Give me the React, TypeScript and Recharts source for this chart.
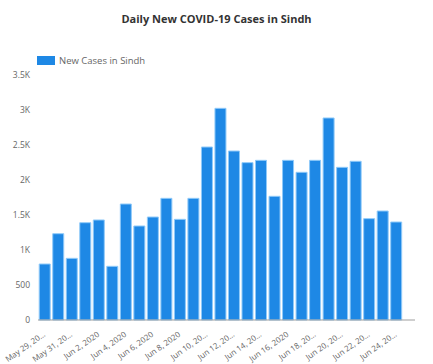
import { Bar, BarChart, XAxis, YAxis } from "recharts";

const days = [
  "May 29", "May 30", "May 31", "Jun 1", "Jun 2", "Jun 3", "Jun 4", "Jun 5", "Jun 6",
  "Jun 7", "Jun 8", "Jun 9", "Jun 10", "Jun 11", "Jun 12", "Jun 13", "Jun 14", "Jun 15",
  "Jun 16", "Jun 17", "Jun 18", "Jun 19", "Jun 20", "Jun 21", "Jun 22", "Jun 23", "Jun 24",
];

const newCases = [
  800, 1233, 881, 1390, 1429, 767, 1657, 1343, 1471, 1738, 1438, 1738, 2471, 3024,
  2414, 2248, 2281, 1767, 2281, 2110, 2281, 2886, 2181, 2267, 1448, 1557, 1400,
];

// labels as they show under the axis (every other day, long ones clipped)
const tickLabels: Record<string, string> = {
  "May 29": "May 29, 20…",
  "May 31": "May 31, 20…",
  "Jun 2": "Jun 2, 2020",
  "Jun 4": "Jun 4, 2020",
  "Jun 6": "Jun 6, 2020",
  "Jun 8": "Jun 8, 2020",
  "Jun 10": "Jun 10, 20…",
  "Jun 12": "Jun 12, 20…",
  "Jun 14": "Jun 14, 20…",
  "Jun 16": "Jun 16, 2020",
  "Jun 18": "Jun 18, 20…",
  "Jun 20": "Jun 20, 20…",
  "Jun 22": "Jun 22, 20…",
  "Jun 24": "Jun 24, 20…",
};

const yTicks = [0, 500, 1000, 1500, 2000, 2500, 3000, 3500];

const data = days.map((day, i) => ({ day, cases: newCases[i] }));

const FONT = "'Open Sans', 'Noto Sans', sans-serif";

function DateTick({ x, y, payload }: any) {
  return (
    <text
      x={x}
      y={y}
      dy={8}
      textAnchor="end"
      fontSize={8}
      fontFamily={FONT}
      fill="#666"
      transform={`rotate(-35, ${x}, ${y + 6})`}
    >
      {tickLabels[payload.value] ?? ""}
    </text>
  );
}

export default function App() {
  return (
    <div style={{ position: "absolute", left: 0, top: 0, width: 433, height: 364, background: "#fff" }}>
      <div
        style={{
          position: "absolute",
          top: 11,
          width: 433,
          textAlign: "center",
          fontFamily: FONT,
          fontWeight: 700,
          fontSize: 11,
          color: "#333",
        }}
      >
        Daily New COVID-19 Cases in Sindh
      </div>
      <div
        style={{
          position: "absolute",
          top: 54,
          left: 37,
          display: "flex",
          alignItems: "center",
          fontFamily: FONT,
          fontSize: 9.5,
          color: "#666",
        }}
      >
        <span style={{ width: 18, height: 9, background: "#1E88E5", marginRight: 4, display: "inline-block" }} />
        New Cases in Sindh
      </div>
      <BarChart
        width={433}
        height={364}
        data={data}
        margin={{ top: 75, right: 18, left: 0, bottom: 0 }}
        barCategoryGap="9%"
      >
        <XAxis
          dataKey="day"
          interval={0}
          tick={<DateTick />}
          tickLine={false}
          axisLine={{ stroke: "#9e9e9e" }}
          height={44}
          padding={{ left: 0, right: 12 }}
        />
        <YAxis
          ticks={yTicks}
          domain={[0, 3500]}
          tickFormatter={(v: number) => (v >= 1000 ? `${v / 1000}K` : `${v}`)}
          tick={{ fill: "#666", fontSize: 8.5, fontFamily: FONT }}
          axisLine={false}
          tickLine={false}
          width={38}
        />
        <Bar
          dataKey="cases"
          fill="#1E88E5"
          stroke="#90CAF9"
          strokeWidth={1}
          isAnimationActive={false}
        />
      </BarChart>
    </div>
  );
}
